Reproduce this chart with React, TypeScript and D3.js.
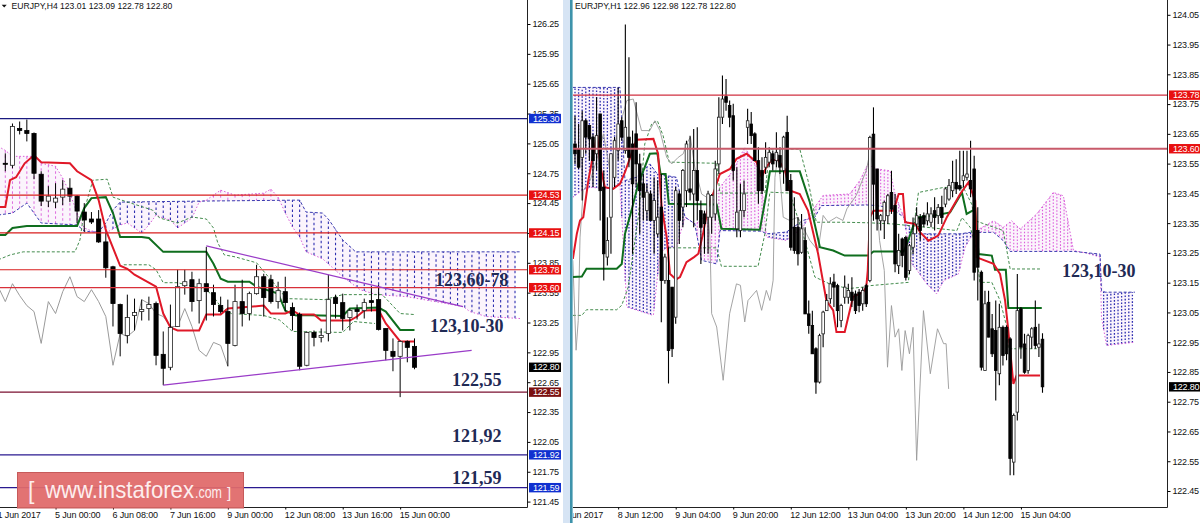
// App.tsx - EURJPY H4 / H1 ichimoku charts side by side
import React, { useRef, useEffect } from 'react';
import * as d3 from 'd3';

type Pt = [number, number];

// ---- H4 panel ----
const h4Open = [124.85,124.83,125.20,125.18,125.15,124.74,124.47,124.46,124.51,124.60,124.52,124.36,124.29,124.29,124.06,123.81,123.43,123.12,123.32,123.36,123.39,123.44,122.93,122.80,123.21,123.62,123.68,123.47,123.64,123.55,123.42,123.36,123.02,123.46,123.34,123.54,123.71,123.68,123.46,123.56,123.40,123.33,122.82,123.15,123.10,123.14,123.50,123.45,123.30,123.38,123.37,123.47,123.48,123.19,122.96,122.91,123.06,123.01];
const h4High = [124.95,125.25,125.27,125.29,125.16,124.77,124.62,124.65,124.68,124.70,124.53,124.45,124.36,124.38,124.15,123.82,123.44,123.53,123.49,123.48,123.51,123.46,123.16,123.43,123.78,123.78,123.76,123.69,124.01,123.63,123.51,123.48,123.63,123.68,123.56,123.83,123.74,123.73,123.66,123.71,123.45,123.35,123.16,123.17,123.19,123.73,123.53,123.54,123.39,123.43,123.49,123.61,123.63,123.19,123.09,123.07,123.07,123.09];
const h4Low = [124.77,124.80,125.14,125.07,124.69,124.42,124.41,124.40,124.43,124.46,124.25,124.16,124.24,124.05,123.70,123.21,122.91,123.04,123.17,123.27,123.27,122.82,122.62,122.77,123.21,123.53,123.36,123.24,123.27,123.31,123.34,122.81,123.01,123.21,123.27,123.53,123.31,123.44,123.39,123.36,123.17,122.77,122.81,123.01,123.05,123.06,123.29,123.17,123.17,123.28,123.29,123.36,123.17,122.87,122.76,122.50,122.85,122.78];
const h4Close = [124.84,125.22,125.18,125.15,124.75,124.47,124.52,124.50,124.59,124.52,124.37,124.28,124.26,124.06,123.80,123.44,123.14,123.30,123.35,123.38,123.43,122.92,122.79,123.20,123.61,123.66,123.46,123.64,123.56,123.43,123.36,123.04,123.46,123.34,123.54,123.71,123.50,123.46,123.57,123.45,123.32,122.81,123.15,123.10,123.12,123.48,123.44,123.29,123.37,123.36,123.45,123.45,123.18,122.97,122.91,123.06,123.00,122.80];

const h4Tenkan: Pt[] = [[-1,124.41],[0,124.41],[0.65,124.68],[1.5,124.71],[2.7,124.85],[4,124.93],[5,124.86],[9,124.85],[10,124.77],[12,124.68],[13,124.48],[14,124.18],[16,123.82],[17,123.79],[18,123.73],[21,123.61],[22,123.34],[23,123.20],[24,123.17],[27,123.17],[28,123.33],[30,123.33],[31,123.39],[36,123.42],[37,123.34],[39,123.34],[40,123.37],[41,123.33],[43,123.33],[44,123.27],[48,123.27],[49,123.31],[50,123.37],[52,123.375],[53,123.24],[55,123.06],[57,123.06]];
const h4Kijun: Pt[] = [[-1,124.13],[0,124.13],[1,124.20],[3,124.22],[10,124.22],[11,124.40],[12,124.50],[14,124.51],[15,124.35],[16,124.11],[19,124.11],[20,124.10],[22,123.96],[28,123.96],[29,123.84],[30,123.69],[31,123.66],[34,123.66],[35,123.61],[38,123.54],[39,123.37],[40.5,123.32],[41,123.325],[47,123.315],[48,123.39],[52,123.40],[53,123.36],[55,123.175],[57,123.175]];
const h4Chikou: Pt[] = [[-1,123.61],[0,123.46],[1,123.64],[2,123.52],[3,123.42],[4,123.36],[5,123.04],[6,123.46],[7,123.34],[8,123.56],[9,123.71],[10,123.51],[11,123.46],[12,123.58],[13,123.46],[14,123.31],[15,122.82],[16,123.14],[17,123.11],[18,123.17],[19,123.48],[20,123.44],[21,123.34],[22,123.31],[23,123.21],[24,123.21],[25,123.39],[26,123.21],[27,122.97],[28,122.91],[29,123.05],[30,123.02],[31,122.81]];
const h4SpanA: Pt[] = [[-1,125.02],[0,124.98],[1,124.92],[4,124.92],[5,124.85],[7,124.82],[8,124.70],[9,124.55],[10,124.35],[11,124.20],[12,124.17],[13,124.16],[14,124.15],[16,124.23],[17,124.25],[18,124.20],[19,124.15],[20,124.23],[21,124.33],[22,124.30],[23,124.28],[24,124.20],[25,124.25],[26,124.30],[27,124.46],[28,124.48],[29,124.53],[30,124.58],[32,124.53],[36,124.55],[37,124.59],[38,124.51],[39,124.35],[40,124.21],[41,124.11],[41.9,123.96],[44.2,123.89],[47,123.71],[49.4,123.58],[51.7,123.53],[55.9,123.51],[63.8,123.41],[64.7,123.36],[67,123.31],[71.7,123.29]];
const h4SpanB: Pt[] = [[-1,124.33],[1,124.35],[3,124.45],[5,124.25],[10,124.23],[11,124.17],[12,124.16],[13,124.16],[14,124.25],[15,124.38],[16,124.46],[27,124.47],[41,124.48],[41.9,124.36],[44.2,124.35],[45.1,124.28],[47,124.08],[48.8,123.96],[71.7,123.96]];
const h4DashA: Pt[] = [[-1,123.88],[0.7,123.93],[2.5,123.96],[9.7,123.96],[10.4,124.08],[11,124.38],[12.2,124.68],[14.2,124.69],[15,124.51],[16.2,124.48],[20.5,124.38],[21.5,124.30],[24,124.25],[26,124.31],[28,124.29],[29,124.20],[29.6,124.05],[30.5,123.93],[32,123.91],[35,123.85],[39.2,123.49],[44.5,123.48],[47,123.53],[52.5,123.53],[55,123.34],[57,123.33]];
const h4DashB: Pt[] = [[16.5,123.83],[20,123.83],[21,123.78],[22,123.65],[24,123.65],[28,123.58],[29,123.51],[30,123.41],[31.5,123.34],[36,123.32],[38.2,123.275],[40,123.16],[47,123.15],[48.5,123.26],[51.5,123.24]];
const h4TrendUpper: Pt[] = [[28,124.02],[63.75,123.41]];
const h4TrendLower: Pt[] = [[22,122.62],[64.96,122.97]];

const h4PriceTicks = [126.25,125.95,125.65,125.35,125.05,124.75,124.45,124.15,123.85,123.55,123.25,122.95,122.65,122.35,122.05,121.75,121.45];
const h4TimeBars = [-1,7,15,23,31,39,47,55];
const h4TimeLabels = ['1 Jun 2017','5 Jun 00:00','6 Jun 08:00','7 Jun 16:00','9 Jun 00:00','12 Jun 08:00','13 Jun 16:00','15 Jun 00:00'];
const h4Levels = [125.30,124.53,124.15,123.78,123.60,122.55,121.92,121.59];
const h4LevelColors = ['#1a1a80','#d81e1e','#d81e1e','#d81e1e','#d8303a','#7a1030','#2a1a90','#2a1a90'];
const h4LevelBoxes = ['#1030d0','#e81010','#e81010','#e81010','#e81010','#7a1010','#1030d0','#1030d0'];
const h4Notes = ['123,60-78','123,10-30','122,55','121,92','121,59'];

// ---- H1 panel ----
const h1Open = [123.616,123.599,123.571,123.694,123.678,123.639,123.583,123.717,123.471,123.236,123.37,123.504,123.594,123.694,123.594,123.639,123.616,123.65,123.549,123.482,123.392,123.448,123.359,123.314,123.404,123.157,123.157,123.135,123.034,123.448,123.404,123.459,123.465,123.448,123.527,123.392,123.381,123.37,123.37,123.381,123.549,123.706,123.775,123.745,123.711,123.331,123.325,123.392,123.672,123.683,123.65,123.56,123.527,123.538,123.555,123.583,123.56,123.577,123.527,123.655,123.493,123.336,123.336,123.252,123.292,123.045,123.006,122.928,122.816,122.978,123.056,123.096,123.152,123.14,123.023,123.101,123.101,123.118,123.112,123.118,123.079,123.14,123.157,123.649,123.532,123.358,123.358,123.375,123.453,123.409,123.207,123.297,123.302,123.191,123.269,123.347,123.369,123.375,123.358,123.353,123.392,123.375,123.403,123.414,123.431,123.459,123.487,123.476,123.493,123.504,123.493,123.532,123.325,123.185,122.855,123.084,122.995,122.989,122.844,123.0,123.0,122.961,122.547,122.715,123.062,122.944,122.855,122.967,123.0,122.933,122.96];
const h1High = [123.711,123.683,123.728,123.7,123.678,123.65,123.773,123.717,123.527,123.37,123.583,123.639,123.806,123.706,124.017,123.907,123.661,123.756,123.583,123.515,123.482,123.46,123.504,123.493,123.515,123.247,123.269,123.135,123.471,123.459,123.532,123.627,123.644,123.666,123.672,123.426,123.392,123.459,123.448,123.56,123.773,123.846,123.834,123.762,123.751,123.538,123.482,123.493,123.734,123.723,123.655,123.605,123.571,123.622,123.605,123.594,123.655,123.605,123.644,123.711,123.515,123.437,123.37,123.381,123.336,123.09,123.056,122.933,122.978,123.056,123.112,123.168,123.18,123.146,123.079,123.174,123.146,123.168,123.124,123.129,123.135,123.146,123.644,123.739,123.532,123.381,123.425,123.448,123.526,123.448,123.314,123.302,123.308,123.28,123.369,123.403,123.381,123.386,123.42,123.403,123.437,123.414,123.442,123.47,123.498,123.56,123.565,123.593,123.593,123.593,123.627,123.576,123.403,123.191,123.123,123.123,123.045,123.09,123.079,123.006,123.006,122.967,122.71,123.179,123.068,122.978,122.978,123.0,123.09,123.012,122.98];
const h1Low = [123.549,123.532,123.426,123.583,123.56,123.471,123.527,123.359,123.157,123.208,123.247,123.471,123.56,123.627,123.583,123.538,123.247,123.471,123.314,123.359,123.359,123.359,123.247,123.303,123.017,123.146,122.811,122.9,123.012,123.28,123.336,123.404,123.426,123.336,123.359,123.213,123.247,123.247,123.314,123.359,123.515,123.683,123.728,123.672,123.493,123.303,123.303,123.37,123.616,123.616,123.56,123.415,123.448,123.515,123.538,123.527,123.538,123.515,123.482,123.459,123.258,123.247,123.208,123.247,123.045,122.978,122.911,122.777,122.811,122.933,123.056,123.079,123.068,123.0,123.0,123.079,123.079,123.068,123.045,123.051,123.056,123.068,123.151,123.358,123.325,123.325,123.297,123.347,123.381,123.185,123.179,123.202,123.157,123.179,123.246,123.314,123.291,123.336,123.342,123.336,123.325,123.347,123.347,123.403,123.425,123.437,123.448,123.459,123.47,123.493,123.437,123.157,123.09,122.855,122.855,122.967,122.9,122.754,122.805,122.872,122.889,122.503,122.503,122.687,122.894,122.844,122.844,122.928,122.928,122.9,122.78];
const h1Close = [123.583,123.538,123.694,123.639,123.633,123.56,123.644,123.459,123.247,123.292,123.583,123.627,123.683,123.639,123.672,123.571,123.482,123.549,123.459,123.437,123.454,123.359,123.426,123.37,123.157,123.236,122.922,122.928,123.459,123.359,123.527,123.616,123.454,123.527,123.426,123.336,123.348,123.448,123.443,123.532,123.706,123.767,123.756,123.706,123.527,123.387,123.392,123.448,123.694,123.644,123.56,123.459,123.459,123.571,123.588,123.549,123.588,123.538,123.639,123.459,123.269,123.258,123.247,123.331,123.045,123.006,122.911,122.816,122.972,123.051,123.09,123.146,123.135,123.056,123.073,123.135,123.124,123.09,123.056,123.073,123.124,123.079,123.638,123.481,123.364,123.375,123.42,123.442,123.397,123.213,123.258,123.241,123.168,123.274,123.314,123.375,123.325,123.347,123.381,123.381,123.369,123.403,123.369,123.465,123.476,123.487,123.465,123.465,123.509,123.515,123.465,123.185,123.202,122.866,123.079,122.967,122.911,122.855,123.0,122.905,122.911,122.559,122.704,123.056,122.933,122.849,122.972,122.995,122.939,122.944,122.80];

const h1Tenkan: Pt[] = [[-0.6,123.23],[0.5,123.314],[1.4,123.359],[2.3,123.37],[3.7,123.493],[5.1,123.583],[6.2,123.644],[7.1,123.538],[8.3,123.471],[10.6,123.465],[12.5,123.482],[13.9,123.521],[15.7,123.583],[17.1,123.63],[21.8,123.633],[23.1,123.583],[24.1,123.404],[25.5,123.303],[26.4,123.18],[28.1,123.161],[29.2,123.169],[31,123.219],[33.1,123.236],[34.3,123.247],[35.6,123.314],[37,123.404],[38.4,123.448],[40.3,123.515],[43.1,123.532],[44.9,123.566],[47.7,123.583],[50.5,123.555],[51.9,123.504],[53.2,123.538],[54.6,123.562],[56.5,123.562],[58.3,123.532],[59.7,123.46],[62.5,123.448],[64.8,123.392],[67.6,123.247],[69.9,123.09],[71.8,123.057],[72.7,122.984],[75,122.984],[77.3,123.102],[80.1,123.118],[81,123.135],[81.4,123.19],[82,123.37],[83,123.392],[88.6,123.392],[90,123.448],[91.2,123.448],[91.8,123.353],[94.6,123.347],[96,123.319],[98.3,123.291],[101,123.308],[103.4,123.37],[107.1,123.448],[109.4,123.487],[111.3,123.425],[111.7,123.235],[116.4,123.213],[118.2,123.179],[119.6,123.09],[120.5,122.989],[121.9,122.81],[122.8,122.838],[129.3,122.838]];
const h1Kijun: Pt[] = [[-0.6,123.169],[1.9,123.171],[3.2,123.197],[11.6,123.197],[13,123.213],[13.9,123.314],[15.7,123.392],[17.6,123.482],[19.4,123.538],[20.8,123.583],[22.9,123.585],[23.8,123.515],[25.2,123.515],[26.1,123.415],[39.4,123.413],[40.7,123.331],[51.4,123.328],[53.2,123.448],[54.2,123.524],[62.5,123.524],[65.3,123.42],[68.1,123.269],[71.8,123.258],[75,123.241],[81.6,123.241],[83,123.255],[91.4,123.255],[92.3,123.28],[94.1,123.342],[95.5,123.37],[99.7,123.375],[104.3,123.386],[107.6,123.453],[108.9,123.381],[111.3,123.397],[112.2,123.246],[115.9,123.241],[116.8,123.193],[119.8,123.193],[120.5,123.065],[129.8,123.065]];
const h1Chikou: Pt[] = [[-0.6,123.225],[0.3,122.923],[0.9,123.023],[1.4,123.303],[2.3,123.46],[4.2,123.493],[6,123.56],[7.9,123.65],[9.7,123.527],[11.6,123.639],[14.4,123.762],[16.2,123.767],[18.5,123.661],[20.8,123.661],[22.2,123.694],[23.6,123.661],[25.5,123.571],[26.9,123.549],[28.7,123.571],[30.1,123.583],[31,123.616],[32.1,123.639],[33.3,123.538],[35.2,123.448],[36.6,123.437],[37.5,123.303],[38,123.046],[39.4,123.001],[41.2,122.822],[43,123.046],[44.9,123.146],[46,123.141],[47.2,123.018],[48.1,123.09],[50.5,123.124],[51.9,123.057],[53.2,123.124],[54.2,123.09],[55.1,123.158],[55.3,123.303],[55.6,123.504],[56.5,123.583],[57.9,123.37],[59.7,123.359],[62,123.37],[65.3,123.292],[67.6,123.258],[69,123.376],[70.4,123.353],[72.7,123.37],[74.5,123.359],[75.6,123.398],[78.2,123.443],[81,123.527],[82.1,123.593],[83.5,123.481],[84.7,123.291],[86,123.191],[86.9,122.866],[88,123.073],[89,122.967],[90,122.995],[90.9,122.855],[91.8,122.989],[93,122.911],[94,123.0],[95,122.553],[96.9,123.056],[98.8,122.844],[100.8,122.995],[102.5,122.945],[103.2,122.945],[103.9,122.793]];
const h1SpanA: Pt[] = [[-0.6,123.437],[1.9,123.46],[4.2,123.471],[8.8,123.465],[11.6,123.476],[12.5,123.482],[14.4,123.068],[21.8,123.04],[23.6,123.247],[25.5,123.269],[28.2,123.269],[30.6,123.37],[33.3,123.348],[35.2,123.359],[39.4,123.448],[40.3,123.471],[44,123.527],[47.2,123.605],[50.5,123.538],[51.9,123.482],[53.2,123.303],[58.8,123.292],[63.4,123.337],[66.7,123.404],[69,123.443],[76.4,123.448],[79.2,123.493],[81.5,123.549],[82,123.543],[84,123.532],[87.6,123.526],[89,123.448],[91.4,123.37],[93.7,123.213],[95.5,123.185],[97.8,123.146],[100.6,123.112],[102.5,123.157],[106.6,123.179],[108.5,123.269],[110.8,123.319],[116.4,123.358],[119.1,123.336],[121.4,123.358],[123.8,123.33],[128.4,123.381],[133,123.453],[135.8,123.442],[138.6,123.258],[142.3,123.249],[146,123.236],[146.4,123.034],[147.8,122.939],[155.7,122.95]];
const h1SpanB: Pt[] = [[-0.6,123.806],[12.5,123.806],[13.9,123.493],[17.1,123.504],[20.8,123.549],[22.9,123.515],[28.2,123.504],[30.6,123.37],[33.3,123.348],[35.2,123.225],[39.4,123.213],[40.3,123.325],[51.9,123.323],[53.2,123.314],[58.8,123.32],[63.4,123.359],[66.7,123.37],[68.5,123.409],[82,123.411],[87.6,123.403],[91.4,123.37],[94.1,123.314],[107.1,123.314],[109.9,123.319],[116.4,123.319],[119.1,123.291],[121,123.255],[138.6,123.255],[146,123.246],[146.4,123.123],[147.4,123.118],[155.7,123.118]];
const h1DashA: Pt[] = [[-0.6,123.04],[1.9,123.04],[3.2,123.059],[11.6,123.059],[13,123.074],[14.8,123.135],[17.6,123.37],[19.4,123.616],[21.3,123.683],[22.9,123.694],[24.5,123.644],[26.2,123.555],[39.4,123.551],[40.3,123.451],[52.8,123.451],[54.2,123.599],[62.5,123.599],[64.8,123.493],[67.1,123.353],[75,123.353],[82,123.351],[88.6,123.347],[97.8,123.336],[106.2,123.325],[107.6,123.369],[109.9,123.336],[111.3,123.28],[112.6,123.151],[115.9,123.151],[118.2,123.09],[120.1,123.0],[120.5,122.928],[128.4,122.928]];
const h1DashB: Pt[] = [[25.9,123.267],[39.4,123.267],[40.7,123.205],[50.9,123.205],[52.8,123.314],[54.2,123.454],[59.7,123.451],[63.4,123.314],[66.7,123.169],[70.8,123.146],[75.9,123.13],[80.1,123.135],[82.1,123.14],[92.7,123.151],[93.7,123.291],[95.5,123.453],[102.5,123.47],[108,123.47],[110.3,123.414],[111.3,123.358],[119.1,123.325],[121,123.196],[129.3,123.196]];

const h1PriceTicks = [124.05,123.95,123.85,123.75,123.65,123.55,123.45,123.35,123.25,123.15,123.05,122.95,122.85,122.75,122.65,122.55,122.45];
const h1TimeBars = [-4,12,28,44,60,76,92,108,124];
const h1TimeLabels = ['7 Jun 2017','8 Jun 12:00','9 Jun 04:00','9 Jun 20:00','12 Jun 12:00','13 Jun 04:00','13 Jun 20:00','14 Jun 12:00','15 Jun 04:00'];
const h1Levels = [123.78,123.60];
const h1LevelColors = ['#d03040','#c85a6a'];
const h1LevelBoxes = ['#e81010','#e81010'];

const FONT = '"Liberation Sans", Arial, sans-serif';
const SERIF = '"Liberation Serif", "Times New Roman", serif';
const NOTE = '#1f2a55';

const bottomY = 507.5;

function YAxis({ scale, ticks, x }: { scale: any; ticks: number[]; x: number }) {
  const ref = useRef<SVGGElement>(null);
  useEffect(() => {
    const g = d3.select(ref.current as SVGGElement);
    g.call(d3.axisRight(scale).tickValues(ticks).tickFormat(d3.format('.2f') as any).tickSize(3).tickPadding(2).tickSizeOuter(0) as any);
    g.select('.domain').remove();
    g.attr('font-family', FONT).attr('font-size', 9).attr('fill', '#111');
    g.selectAll('text').attr('letter-spacing', -0.2).attr('fill', '#111');
  }, []);
  return <g ref={ref} transform={`translate(${x},0)`} />;
}

function XAxis({ scale, bars, labels, clipId }: { scale: any; bars: number[]; labels: string[]; clipId: string }) {
  const ref = useRef<SVGGElement>(null);
  useEffect(() => {
    const g = d3.select(ref.current as SVGGElement);
    g.call(d3.axisBottom(scale).tickValues(bars).tickFormat((_: any, i: number) => labels[i]).tickSize(2).tickPadding(2).tickSizeOuter(0) as any);
    g.select('.domain').remove();
    g.attr('font-family', FONT).attr('font-size', 9);
    g.selectAll('text').attr('text-anchor', 'start').attr('dx', -1).attr('letter-spacing', -0.15).attr('fill', '#111');
  }, []);
  return <g ref={ref} clipPath={`url(#${clipId}-full)`} transform={`translate(0,${bottomY})`} />;
}

type PanelProps = {
  id: string; left: number; right: number; axisX: number;
  open: number[]; high: number[]; low: number[]; close: number[];
  x: any; y: any; tenkan: Pt[]; kijun: Pt[]; chikou: Pt[];
  spanA: Pt[]; spanB: Pt[]; dashA: Pt[]; dashB: Pt[];
  levels: number[]; levelColors: string[]; levelBoxes: string[];
  priceTicks: number[]; timeBars: number[]; timeLabels: string[];
  last: number; bodyWidth: number; wick: number; hatch: string; hatchWidth: number; lineWidth: number; chikouWidth: number;
};

function Panel(p: PanelProps) {
  const { x, y } = p;
  const line = d3.line<Pt>().x(d => x(d[0])).y(d => y(d[1]));
  const interpA = d3.scaleLinear().domain(p.spanA.map(d => d[0])).range(p.spanA.map(d => d[1]));
  const interpB = d3.scaleLinear().domain(p.spanB.map(d => d[0])).range(p.spanB.map(d => d[1]));
  const first = Math.ceil(p.spanA[0][0]);
  const lastCloud = Math.floor(p.spanA[p.spanA.length - 1][0]);
  const hatchBars = d3.range(first, lastCloud + 1);
  const cloud = d3.area<number>().x(b => x(b)).y0(b => y(interpA(b))).y1(b => y(interpB(b)));
  return (
    <g>
      <defs>
        <clipPath id={`${p.id}-plot`}><rect x={p.left} y={0} width={p.right - p.left} height={bottomY} /></clipPath>
        <clipPath id={`${p.id}-full`}><rect x={p.left} y={-bottomY} width={p.right - p.left} height={bottomY + 40} /></clipPath>
      </defs>
      <g clipPath={`url(#${p.id}-plot)`}>
        <path d={cloud(hatchBars) || ''} fill="#fbf4fc" />
        {hatchBars.map(b => {
          const a = interpA(b) as number;
          const c = interpB(b) as number;
          const pink = a >= c;
          return <line key={b} x1={x(b)} x2={x(b)} y1={y(a)} y2={y(c)}
            stroke={pink ? '#dc60dc' : '#2e2eb0'} strokeWidth={pink ? p.hatchWidth * 0.85 : p.hatchWidth} strokeDasharray={p.hatch} />;
        })}
        <path d={line(p.spanA) || ''} fill="none" stroke="#d860d8" strokeWidth={1} strokeDasharray="1.5 2" />
        <path d={line(p.spanB) || ''} fill="none" stroke="#3a3ab0" strokeWidth={1} strokeDasharray="3 2" />
        <path d={line(p.dashA) || ''} fill="none" stroke="#2f7f3a" strokeWidth={0.9} strokeDasharray="3 2" />
        <path d={line(p.dashB) || ''} fill="none" stroke="#2f7f3a" strokeWidth={0.9} strokeDasharray="3 2" />
        <path d={line(p.chikou) || ''} fill="none" stroke="#9a9a9a" strokeWidth={p.chikouWidth} />
        <path d={line(p.kijun) || ''} fill="none" stroke="#0f6e1e" strokeWidth={p.lineWidth} />
        <path d={line(p.tenkan) || ''} fill="none" stroke="#e01828" strokeWidth={p.lineWidth} />
        {p.open.map((o, i) => {
          const c = p.close[i];
          const up = c >= o;
          const top = y(Math.max(o, c));
          const h = Math.max(1, Math.abs(y(o) - y(c)));
          return (
            <g key={i}>
              <line x1={x(i)} x2={x(i)} y1={y(p.high[i])} y2={y(p.low[i])} stroke="#000" strokeWidth={p.wick} />
              <rect x={x(i) - p.bodyWidth / 2} y={top} width={p.bodyWidth} height={h}
                fill={up ? '#fff' : '#000'} stroke={up ? '#222' : '#000'} strokeWidth={0.8} />
            </g>
          );
        })}
        {p.levels.map((v, i) => (
          <line key={v} x1={p.left} x2={p.right} y1={y(v)} y2={y(v)} stroke={p.levelColors[i]} strokeWidth={i === 1 && p.id === 'h1' ? 2 : 1.2} />
        ))}
      </g>
      <line x1={p.axisX} x2={p.axisX} y1={0} y2={bottomY} stroke="#222" strokeWidth={1} />
      <line x1={p.left} x2={p.axisX} y1={bottomY} y2={bottomY} stroke="#222" strokeWidth={1} />
      <YAxis scale={y} ticks={p.priceTicks} x={p.axisX} />
      <XAxis scale={x} bars={p.timeBars} labels={p.timeLabels} clipId={p.id} />
      {p.levels.concat([p.last]).map((v, i) => (
        <g key={v}>
          <rect x={p.axisX + 1.5} y={y(v) - 4.7} width={32} height={9.4} fill={i < p.levels.length ? p.levelBoxes[i] : '#000'} />
          <text x={p.axisX + 5.5} y={y(v) + 3.2} fontFamily={FONT} fontSize={9} letterSpacing={-0.2} fill="#fff">{v.toFixed(2)}</text>
        </g>
      ))}
    </g>
  );
}

export default function App() {
  const h4X = d3.scaleLinear().domain([0, 57]).range([5.3, 414.5]);
  const h4Y = d3.scaleLinear().domain([126.25, 121.45]).range([24, 501.6]);
  const h1X = d3.scaleLinear().domain([0, 130]).range([575, 1042.5]);
  const h1Y = d3.scaleLinear().domain([124.05, 122.45]).range([14.8, 491]);

  return (
    <svg width={1200} height={523} style={{ position: 'absolute', left: 0, top: 0, display: 'block', background: '#fff' }}>
      <Panel id="h4" left={0} right={527} axisX={527.5} open={h4Open} high={h4High} low={h4Low} close={h4Close}
        x={h4X} y={h4Y} tenkan={h4Tenkan} kijun={h4Kijun} chikou={h4Chikou} spanA={h4SpanA} spanB={h4SpanB}
        dashA={h4DashA} dashB={h4DashB} levels={h4Levels} levelColors={h4LevelColors} levelBoxes={h4LevelBoxes}
        priceTicks={h4PriceTicks} timeBars={h4TimeBars} timeLabels={h4TimeLabels} last={122.80}
        bodyWidth={4.2} wick={1} hatch="2.5 2.5" hatchWidth={1.1} lineWidth={2} chikouWidth={1} />
      <rect x={563} y={0} width={7} height={523} fill="#d6e4f4" />
      <rect x={570} y={0} width={2.6} height={523} fill="#3e93ab" />
      <Panel id="h1" left={573} right={1167} axisX={1167.5} open={h1Open} high={h1High} low={h1Low} close={h1Close}
        x={h1X} y={h1Y} tenkan={h1Tenkan} kijun={h1Kijun} chikou={h1Chikou} spanA={h1SpanA} spanB={h1SpanB}
        dashA={h1DashA} dashB={h1DashB} levels={h1Levels} levelColors={h1LevelColors} levelBoxes={h1LevelBoxes}
        priceTicks={h1PriceTicks} timeBars={h1TimeBars} timeLabels={h1TimeLabels} last={122.80}
        bodyWidth={2.6} wick={1.1} hatch="1.6 1.7" hatchWidth={1.3} lineWidth={2} chikouWidth={0.9} />

      <path d={d3.line<Pt>().x(d => h4X(d[0])).y(d => h4Y(d[1]))(h4TrendUpper) || ''} fill="none" stroke="#9a3cc8" strokeWidth={1.2} />
      <path d={d3.line<Pt>().x(d => h4X(d[0])).y(d => h4Y(d[1]))(h4TrendLower) || ''} fill="none" stroke="#9a3cc8" strokeWidth={1.2} />

      {/* headers */}
      <path d="M1.7 4.7 L6.7 4.7 L4.2 7.5 Z" fill="#111" />
      <text x={11.5} y={9} fontFamily={FONT} fontSize={8.6} fill="#111">EURJPY,H4  123.01 123.09 122.78 122.80</text>
      <text x={575} y={9} fontFamily={FONT} fontSize={8.6} fill="#111">EURJPY,H1  122.96 122.98 122.78 122.80</text>

      {/* hand written notes */}
      <g fontFamily={SERIF} fontWeight="bold" fontSize={18} fill={NOTE}>
        <text x={435} y={286}>{h4Notes[0]}</text>
        <text x={430} y={332}>{h4Notes[1]}</text>
        <text x={452} y={386}>{h4Notes[2]}</text>
        <text x={452} y={442}>{h4Notes[3]}</text>
        <text x={452} y={484}>{h4Notes[4]}</text>
        <text x={1062} y={277}>{h4Notes[1]}</text>
      </g>

      {/* watermark */}
      <rect x={17.5} y={472.5} width={226} height={35.5} fill="#e06a6a" fillOpacity={0.94} stroke="#c65a5a" strokeWidth={1} />
      <g fontFamily={FONT} fill="#fdeeee">
        <text x={28} y={499} fontSize={23}>[</text>
        <text x={45} y={498} fontSize={24} textLength={149} lengthAdjust="spacingAndGlyphs">www.instaforex</text>
        <text x={195} y={498} fontSize={17} textLength={27} lengthAdjust="spacingAndGlyphs">.com</text>
        <text x={227} y={498} fontSize={15}>]</text>
      </g>
    </svg>
  );
}
